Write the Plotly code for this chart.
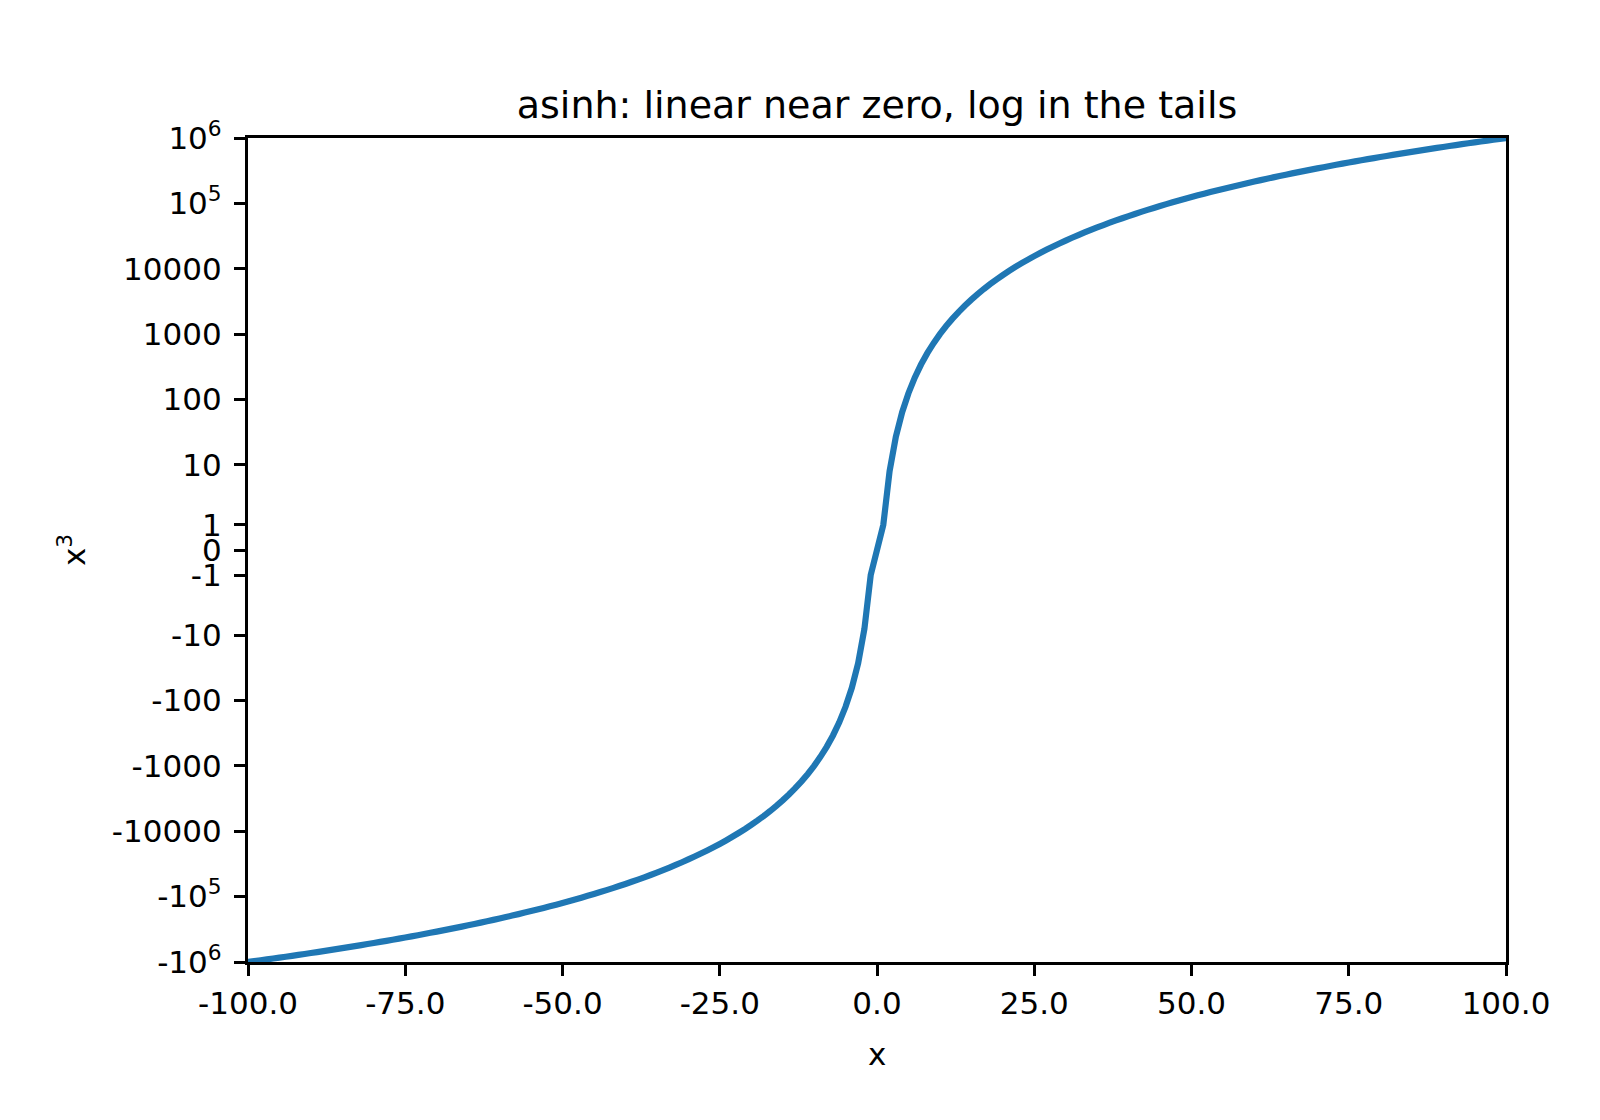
import numpy as np
import plotly.graph_objects as go

# Data: x sampled at integers, y = x^3 (as labelled on the y axis)
x_values = list(range(-100, 101))
y_values = [v ** 3 for v in x_values]

# asinh-scale ticks (linear_width = 1)
y_tick_values = [-1e6, -1e5, -1e4, -1e3, -100, -10, -1, 0, 1, 10, 100, 1e3, 1e4, 1e5, 1e6]
y_tick_labels = ["-10<sup>6</sup>", "-10<sup>5</sup>", "-10000", "-1000", "-100", "-10", "-1",
                 "0", "1", "10", "100", "1000", "10000", "10<sup>5</sup>", "10<sup>6</sup>"]
x_tick_values = [-100, -75, -50, -25, 0, 25, 50, 75, 100]
x_tick_labels = ["-100.0", "-75.0", "-50.0", "-25.0", "0.0", "25.0", "50.0", "75.0", "100.0"]

LINEAR_WIDTH = 1.0


def asinh_scale(v):
    return LINEAR_WIDTH * np.arcsinh(np.asarray(v, dtype=float) / LINEAR_WIDTH)


FONT = "DejaVu Sans"
W, H = 1600, 1120
L, R, T, B = 248, 94, 138, 158

fig = go.Figure()
fig.add_trace(go.Scatter(
    x=x_values, y=asinh_scale(y_values), mode="lines",
    line=dict(color="#1f77b4", width=6.2, simplify=False),
    showlegend=False, hoverinfo="skip"))

axis_common = dict(
    showline=True, linecolor="black", linewidth=3.3, mirror=True,
    ticks="outside", ticklen=11, tickwidth=3.3, tickcolor="black",
    showgrid=False, zeroline=False,
    tickfont=dict(family=FONT, size=31, color="black"),
)

fig.update_xaxes(range=[-100, 100], tickmode="array", tickvals=x_tick_values,
                 ticktext=x_tick_labels, ticklabelstandoff=1, **axis_common)
fig.update_yaxes(range=[float(asinh_scale(-1e6)), float(asinh_scale(1e6))], tickmode="array",
                 tickvals=list(asinh_scale(y_tick_values)), ticktext=y_tick_labels,
                 ticklabelstandoff=6, **axis_common)

plot_w = W - L - R
plot_h = H - T - B

fig.update_layout(
    width=W, height=H,
    margin=dict(l=L, r=R, t=T, b=B, pad=0),
    paper_bgcolor="white", plot_bgcolor="white",
    font=dict(family=FONT, color="black"),
    title=dict(text="asinh: linear near zero, log in the tails",
               font=dict(family=FONT, size=38, color="black"),
               x=(L + plot_w / 2) / W, xanchor="center", xref="container",
               y=1 - 105 / H, yanchor="middle", yref="container"),
    annotations=[
        dict(text="x", xref="paper", yref="paper",
             x=0.5, y=-(1054 - (H - B)) / plot_h, xanchor="center", yanchor="middle",
             showarrow=False, font=dict(family=FONT, size=31, color="black")),
        dict(text="x<sup>3</sup>", xref="paper", yref="paper",
             x=(72 - L) / plot_w, y=0.5, xanchor="center", yanchor="middle",
             textangle=-90, showarrow=False, font=dict(family=FONT, size=31, color="black")),
    ],
)

fig.write_html("out.html")
